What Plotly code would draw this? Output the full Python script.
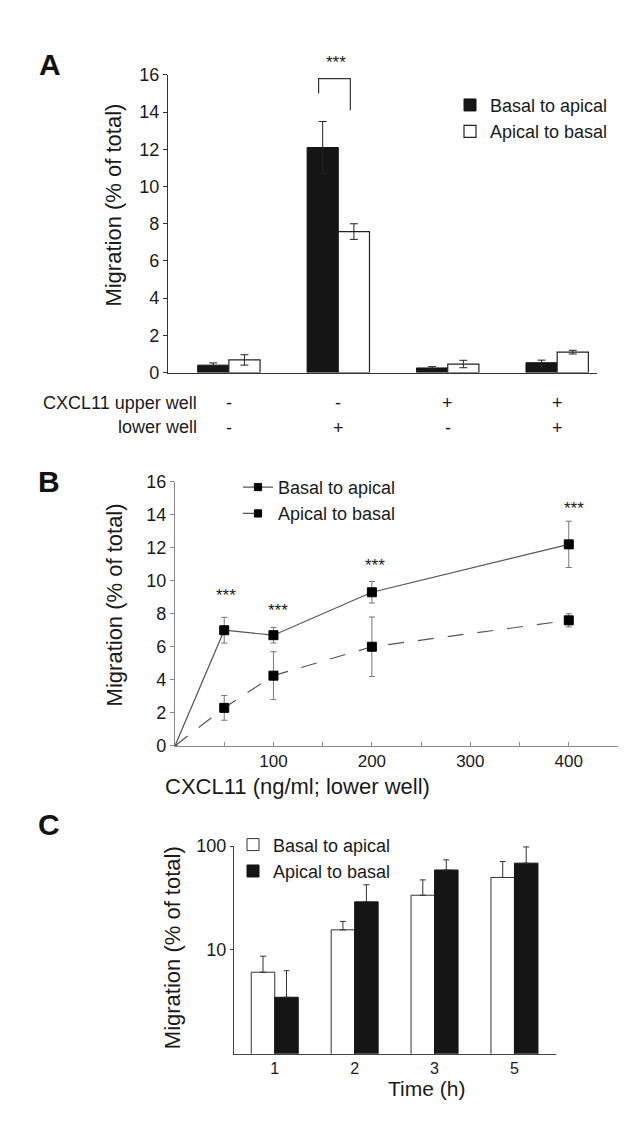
import plotly.graph_objects as go

W, H = 629, 1126

# ---------------- Panel A data ----------------
a_conditions = ["upper-/lower-", "upper-/lower+", "upper+/lower-", "upper+/lower+"]
a_upper_well = ["-", "-", "+", "+"]
a_lower_well = ["-", "+", "-", "+"]
a_basal_to_apical = [0.40, 12.10, 0.25, 0.53]
a_basal_to_apical_err = [0.12, 1.40, 0.07, 0.14]
a_apical_to_basal = [0.68, 7.58, 0.46, 1.10]
a_apical_to_basal_err = [0.28, 0.42, 0.20, 0.10]
a_y_ticks = [0, 2, 4, 6, 8, 10, 12, 14, 16]
a_sig_label = "***"
a_sig_index = 1
a_sig_bracket_y = [15.0, 15.8, 15.8, 14.1]

# ---------------- Panel B data ----------------
b_cxcl11 = [0, 50, 100, 200, 400]
b_basal_to_apical = [0, 7.0, 6.7, 9.3, 12.2]
b_basal_to_apical_err = [0, 0.78, 0.47, 0.65, 1.40]
b_apical_to_basal = [0, 2.3, 4.25, 6.0, 7.6]
b_apical_to_basal_err = [0, 0.75, 1.45, 1.80, 0.40]
b_sig_x = [52, 105, 203, 405]
b_sig_y = [9.1, 8.2, 10.9, 14.4]
b_x_ticks = [50, 100, 150, 200, 250, 300, 350, 400]
b_x_ticktext = ["", "100", "", "200", "", "300", "", "400"]
b_y_ticks = [0, 2, 4, 6, 8, 10, 12, 14, 16]

# ---------------- Panel C data ----------------
c_time = ["1", "2", "3", "5"]
c_basal_to_apical = [6.1, 15.6, 33.6, 49.8]
c_basal_to_apical_err_up = [2.6, 3.2, 13.6, 21.2]
c_apical_to_basal = [3.5, 29.0, 58.8, 68.4]
c_apical_to_basal_err_up = [2.8, 13.4, 14.8, 29.6]
c_y_ticks = [10, 100]

FONT = "Liberation Sans, Arial, Helvetica, sans-serif"
NARROW = "Liberation Sans Narrow, Liberation Sans, Arial, sans-serif"
TXT = "#1a1a1a"


def px_x(p):
    return p / W


def px_y(p):
    return 1 - p / H


fig = go.Figure()

# ---- Panel A bars ----
bw_a = 0.285
fig.add_trace(go.Bar(
    x=a_conditions, y=a_basal_to_apical, name="Basal to apical",
    offset=-bw_a, width=bw_a,
    marker=dict(color="#151515", line=dict(color="#151515", width=1)),
    error_y=dict(type="data", array=a_basal_to_apical_err, color="#222", thickness=1, width=4),
    xaxis="x", yaxis="y", legend="legend", legendgroup="a1",
))
fig.add_trace(go.Bar(
    x=a_conditions, y=a_apical_to_basal, name="Apical to basal",
    offset=0, width=bw_a,
    marker=dict(color="white", line=dict(color="#222", width=1.2)),
    error_y=dict(type="data", array=a_apical_to_basal_err, color="#222", thickness=1, width=4),
    xaxis="x", yaxis="y", legend="legend", legendgroup="a2",
))

# ---- Panel B lines ----
b_sizes = [0 if v == 0 else 9 for v in b_cxcl11]
fig.add_trace(go.Scatter(
    x=b_cxcl11, y=b_basal_to_apical, name="Basal to apical",
    mode="lines+markers",
    line=dict(color="#555", width=1.2),
    marker=dict(symbol="square", size=b_sizes, color="black", opacity=1,
                line=dict(color="black", width=1)),
    error_y=dict(type="data", array=b_basal_to_apical_err, color="#777", thickness=1, width=3),
    xaxis="x2", yaxis="y2", legend="legend2", legendgroup="b1", cliponaxis=False,
))
fig.add_trace(go.Scatter(
    x=b_cxcl11, y=b_apical_to_basal, name="Apical to basal",
    mode="lines+markers",
    line=dict(color="#555", width=1.2, dash="16px,14px"),
    marker=dict(symbol="square", size=b_sizes, color="black", opacity=1,
                line=dict(color="black", width=1)),
    error_y=dict(type="data", array=b_apical_to_basal_err, color="#777", thickness=1, width=3),
    xaxis="x2", yaxis="y2", legend="legend2", legendgroup="b2", cliponaxis=False,
))

# ---- Panel C bars ----
bw_c = 0.294
zeros = [0] * len(c_time)
fig.add_trace(go.Bar(
    x=c_time, y=c_basal_to_apical, name="Basal to apical",
    offset=-bw_c, width=bw_c,
    marker=dict(color="white", line=dict(color="#333", width=1)),
    error_y=dict(type="data", symmetric=False, array=c_basal_to_apical_err_up,
                 arrayminus=zeros, color="#333", thickness=1, width=3),
    xaxis="x3", yaxis="y3", legend="legend3", legendgroup="c1",
))
fig.add_trace(go.Bar(
    x=c_time, y=c_apical_to_basal, name="Apical to basal",
    offset=0, width=bw_c,
    marker=dict(color="#151515", line=dict(color="#151515", width=1)),
    error_y=dict(type="data", symmetric=False, array=c_apical_to_basal_err_up,
                 arrayminus=zeros, color="#333", thickness=1, width=3),
    xaxis="x3", yaxis="y3", legend="legend3", legendgroup="c2",
))

axis_common = dict(showgrid=False, zeroline=False, showline=True, mirror=False)

annotations = []
shapes = []

# Panel A significance bracket
bx0 = a_sig_index - 0.18
bx1 = a_sig_index + 0.11
shapes.append(dict(
    type="path", xref="x", yref="y",
    path=f"M {bx0},{a_sig_bracket_y[0]} L {bx0},{a_sig_bracket_y[1]} L {bx1},{a_sig_bracket_y[2]} L {bx1},{a_sig_bracket_y[3]}",
    line=dict(color="#333", width=1.2),
))
annotations.append(dict(text=a_sig_label, x=a_sig_index - 0.02, y=px_y(45), xref="x", yref="paper",
                        showarrow=False, font=dict(size=17, color=TXT), yanchor="middle"))

# Panel A condition table
annotations.append(dict(text="CXCL11 upper well", x=px_x(191), y=px_y(392), xref="paper", yref="paper",
                        xanchor="right", yanchor="middle", showarrow=False,
                        font=dict(family=NARROW, size=18, color=TXT)))
annotations.append(dict(text="lower well", x=px_x(191), y=px_y(416), xref="paper", yref="paper",
                        xanchor="right", yanchor="middle", showarrow=False,
                        font=dict(family=NARROW, size=18, color=TXT)))
for cond, up, lo in zip(a_conditions, a_upper_well, a_lower_well):
    annotations.append(dict(text=up, x=cond, y=px_y(392), xref="x", yref="paper",
                            showarrow=False, yanchor="middle", font=dict(family=NARROW, size=18, color=TXT)))
    annotations.append(dict(text=lo, x=cond, y=px_y(417), xref="x", yref="paper",
                            showarrow=False, yanchor="middle", font=dict(family=NARROW, size=18, color=TXT)))

# Panel B stars
for sx, sy in zip(b_sig_x, b_sig_y):
    annotations.append(dict(text="***", x=sx, y=sy, xref="x2", yref="y2", showarrow=False,
                            yanchor="middle", font=dict(size=17, color=TXT)))

# Axis titles
ytitle = "Migration (% of total)"
for cx, cy in [(106, 191), (106, 598), (164, 947)]:
    annotations.append(dict(text=ytitle, x=px_x(cx), y=px_y(cy), xref="paper", yref="paper",
                            textangle=-90, showarrow=False, xanchor="center", yanchor="middle",
                            font=dict(size=22, color=TXT)))
annotations.append(dict(text="CXCL11 (ng/ml; lower well)", x=px_x(424), y=px_y(797), xref="paper",
                        yref="paper", showarrow=False, font=dict(size=22, color=TXT)))
annotations.append(dict(text="Time (h)", x=px_x(418), y=px_y(1104), xref="paper",
                        yref="paper", showarrow=False, font=dict(size=21, color=TXT)))

# Panel letters
for letter, cx, cy in [("A", 29, 29), ("B", 28, 472), ("C", 28, 840)]:
    annotations.append(dict(text=f"<b>{letter}</b>", x=px_x(cx), y=px_y(cy), xref="paper", yref="paper",
                            showarrow=False, font=dict(size=30, color="#111")))

legend_common = dict(xanchor="left", yanchor="top", bgcolor="rgba(0,0,0,0)",
                     font=dict(size=18, color=TXT, family=FONT), tracegroupgap=0,
                     traceorder="grouped", itemclick=False)

fig.update_layout(
    width=W, height=H, autosize=False,
    margin=dict(l=0, r=0, t=0, b=0),
    paper_bgcolor="white", plot_bgcolor="white",
    font=dict(family=FONT, color=TXT, size=18),
    barmode="group",
    showlegend=True,
    xaxis=dict(domain=[px_x(160), px_x(589)], anchor="y", type="category",
               categoryorder="array", categoryarray=a_conditions,
               range=[-0.556, 3.364], showticklabels=False, ticks="",
               linecolor="#333", linewidth=1.2, **axis_common),
    yaxis=dict(domain=[px_y(361), px_y(58)], anchor="x", range=[0, 16],
               tickvals=a_y_ticks, ticks="outside", ticklen=4, tickcolor="#333",
               linecolor="#333", linewidth=1.2, tickfont=dict(size=18), **axis_common),
    xaxis2=dict(domain=[px_x(167), px_x(610)], anchor="y2", range=[0, 450],
                tickvals=b_x_ticks, ticktext=b_x_ticktext, ticks="inside", ticklen=4,
                tickcolor="#888", linecolor="#888", linewidth=1.2, tickfont=dict(size=17),
                **axis_common),
    yaxis2=dict(domain=[px_y(741), px_y(472)], anchor="x2", range=[0, 16],
                tickvals=b_y_ticks, ticks="outside", ticklen=4, tickcolor="#888",
                linecolor="#888", linewidth=1.2, tickfont=dict(size=18), **axis_common),
    xaxis3=dict(domain=[px_x(226), px_x(548)], anchor="y3", type="category",
                categoryorder="array", categoryarray=c_time,
                range=[-0.51, 3.52], ticks="", tickfont=dict(size=16, family=NARROW),
                linecolor="#444", linewidth=1.2, **axis_common),
    yaxis3=dict(domain=[px_y(1054.5), px_y(843)], anchor="x3", type="log", range=[0, 2],
                tickvals=c_y_ticks, ticktext=[str(v) for v in c_y_ticks], ticks="outside",
                ticklen=3, tickcolor="#444", linecolor="#444", linewidth=1.2,
                tickfont=dict(size=18), **axis_common),
    legend=dict(x=px_x(442), y=px_y(70), **legend_common),
    legend2=dict(x=px_x(230), y=px_y(459), **legend_common),
    legend3=dict(x=px_x(225), y=px_y(823), **legend_common),
    annotations=annotations,
    shapes=shapes,
)

fig.write_html("out.html")
